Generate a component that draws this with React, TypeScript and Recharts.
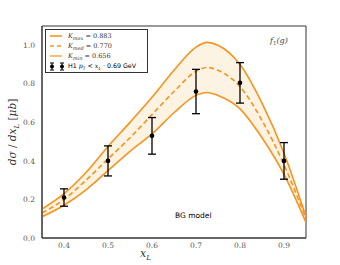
import { ComposedChart, Line, Area, Scatter, ErrorBar, XAxis, YAxis, ReferenceArea } from 'recharts';

// model curves, sampled along x_L
const xL = [0.35, 0.4, 0.45, 0.5, 0.55, 0.6, 0.65, 0.7, 0.725, 0.75, 0.8, 0.85, 0.9, 0.95];
const kMax = [0.15, 0.23, 0.34, 0.475, 0.6, 0.73, 0.87, 0.99, 1.015, 1.0, 0.9, 0.7, 0.44, 0.11];
const kMed = [0.13, 0.2, 0.3, 0.41, 0.52, 0.64, 0.76, 0.865, 0.885, 0.87, 0.785, 0.61, 0.38, 0.1];
const kMin = [0.11, 0.17, 0.25, 0.35, 0.45, 0.54, 0.65, 0.74, 0.755, 0.74, 0.67, 0.52, 0.33, 0.08];

// H1 data
const h1X = [0.4, 0.5, 0.6, 0.7, 0.8, 0.9];
const h1Y = [0.21, 0.4, 0.53, 0.76, 0.805, 0.4];
const h1Err = [0.045, 0.078, 0.095, 0.115, 0.105, 0.095];

const xTicks = [0.4, 0.5, 0.6, 0.7, 0.8, 0.9];
const yTicks = [0, 0.2, 0.4, 0.6, 0.8, 1.0];

const ORANGE = '#f7931e';
const SERIF = '"DejaVu Serif", "Liberation Serif", serif';

const curveData = xL.map((x, i) => ({ x, hi: kMax[i], med: kMed[i], lo: kMin[i] }));
const pointData = h1X.map((x, i) => ({ x, y: h1Y[i], err: h1Err[i] }));

const legendRow = { display: 'flex', alignItems: 'center', height: 10, whiteSpace: 'nowrap' } as const;

function Sub({ children, size = 5 }: { children: any; size?: number }) {
  return <span style={{ fontSize: size, position: 'relative', top: size * 0.45, fontStyle: 'italic' }}>{children}</span>;
}

export default function App() {
  return (
    <div style={{ position: 'fixed', left: 0, top: 0, width: 340, height: 265, background: '#fff' }}>
      <ComposedChart width={340} height={265} data={curveData} margin={{ top: 26, right: 34, bottom: 7, left: 12 }}>
        <XAxis
          dataKey="x"
          type="number"
          domain={[0.35, 0.95]}
          ticks={xTicks}
          tickFormatter={(v) => v.toFixed(1)}
          tick={{ fontSize: 7.5, fill: '#555', fontFamily: SERIF }}
          tickLine={false}
          tickMargin={-1}
          axisLine={{ stroke: '#333' }}
          height={20}
        />
        <YAxis
          type="number"
          domain={[0, 1.1]}
          ticks={yTicks}
          tickFormatter={(v) => v.toFixed(1)}
          tick={{ fontSize: 7.5, fill: '#555', fontFamily: SERIF }}
          tickLine={false}
          tickMargin={1}
          axisLine={{ stroke: '#333' }}
          width={30}
        />
        <Area
          dataKey={(d: any) => [d.lo, d.hi]}
          type="monotone"
          stroke="none"
          fill="#fdf3e2"
          fillOpacity={1}
          isAnimationActive={false}
        />
        <Line dataKey="hi" type="monotone" stroke={ORANGE} strokeWidth={1.6} dot={false} isAnimationActive={false} />
        <Line dataKey="med" type="monotone" stroke={ORANGE} strokeWidth={1.6} strokeDasharray="5 3" dot={false} isAnimationActive={false} />
        <Line dataKey="lo" type="monotone" stroke={ORANGE} strokeWidth={1.6} dot={false} isAnimationActive={false} />
        <Scatter data={pointData} dataKey="y" fill="#000" shape={(p: any) => <circle cx={p.cx} cy={p.cy} r={2.3} fill="#000" />} isAnimationActive={false}>
          <ErrorBar dataKey="err" direction="y" width={4} stroke="#000" strokeWidth={1.3} />
        </Scatter>
        <ReferenceArea x1={0.35} x2={0.95} y1={0} y2={1.1} fill="none" stroke="#333" strokeWidth={1} ifOverflow="extendDomain" />
      </ComposedChart>

      {/* legend box */}
      <div
        style={{
          position: 'absolute', left: 45, top: 29, width: 103, height: 44,
          border: '1px solid #333', background: '#fff', padding: '1px 2px', boxSizing: 'border-box',
          fontFamily: SERIF, fontSize: 6.5, color: '#333', lineHeight: '10px',
        }}
      >
        <div style={legendRow}>
          <svg width={20} height={6}><line x1={2} y1={3} x2={14} y2={3} stroke={ORANGE} strokeWidth={1.6} /></svg>
          <span><i>K</i><Sub>max</Sub> = 0.883</span>
        </div>
        <div style={legendRow}>
          <svg width={20} height={6}><line x1={2} y1={3} x2={14} y2={3} stroke={ORANGE} strokeWidth={1.6} strokeDasharray="4 3" /></svg>
          <span><i>K</i><Sub>med</Sub> = 0.770</span>
        </div>
        <div style={legendRow}>
          <svg width={20} height={6}><line x1={2} y1={3} x2={14} y2={3} stroke={ORANGE} strokeWidth={1.2} /></svg>
          <span><i>K</i><Sub>min</Sub> = 0.656</span>
        </div>
        <div style={legendRow}>
          <svg width={20} height={9}>
            <line x1={4} y1={1} x2={4} y2={8} stroke="#000" /><line x1={2} y1={1} x2={6} y2={1} stroke="#000" /><line x1={2} y1={8} x2={6} y2={8} stroke="#000" /><circle cx={4} cy={4.5} r={2} fill="#000" />
            <line x1={14} y1={1} x2={14} y2={8} stroke="#000" /><line x1={12} y1={1} x2={16} y2={1} stroke="#000" /><line x1={12} y1={8} x2={16} y2={8} stroke="#000" /><circle cx={14} cy={4.5} r={2} fill="#000" />
          </svg>
          <span style={{ fontFamily: '"DejaVu Sans", sans-serif', fontSize: 6.3, color: '#000' }}>
            H1 <i style={{ fontFamily: SERIF }}>p</i><Sub size={4.5}>T</Sub> &lt; <i style={{ fontFamily: SERIF }}>x</i><Sub size={4.5}>L</Sub> · 0.69 GeV
          </span>
        </div>
      </div>

      {/* annotations */}
      <div style={{ position: 'absolute', left: 270, top: 36, fontFamily: SERIF, fontStyle: 'italic', fontSize: 8, color: '#444', lineHeight: '10px' }}>
        f<span style={{ fontSize: 5.5, fontStyle: 'normal', position: 'relative', top: 2 }}>1</span>(g)
      </div>
      <div style={{ position: 'absolute', left: 175, top: 211, fontFamily: '"DejaVu Sans", sans-serif', fontSize: 7.5, color: '#000', lineHeight: '10px' }}>
        BG model
      </div>
      <div style={{ position: 'absolute', left: 140, top: 248, fontFamily: SERIF, fontStyle: 'italic', fontSize: 11, color: '#333', lineHeight: '12px' }}>
        x<Sub size={7}>L</Sub>
      </div>
      <div
        style={{
          position: 'absolute', left: 13, top: 132, transform: 'translate(-50%, -50%) rotate(-90deg)',
          whiteSpace: 'nowrap', fontFamily: SERIF, fontSize: 10.5, color: '#333', lineHeight: '12px',
        }}
      >
        <i>dσ</i> / <i>dx</i><Sub size={7}>L</Sub> [<i>μb</i>]
      </div>
    </div>
  );
}
